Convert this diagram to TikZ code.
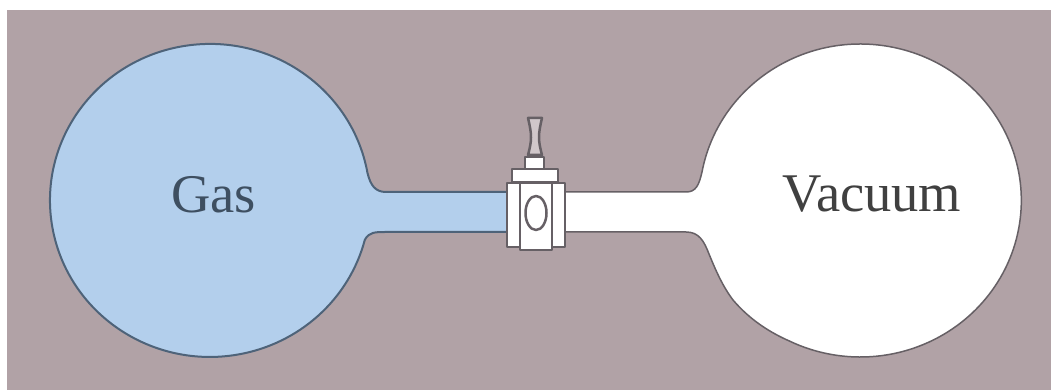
\documentclass[tikz,border=0pt]{standalone}
\usepackage{fontspec}
\setmainfont{Liberation Serif}
\usepackage{xcolor}
\definecolor{wallbg}{HTML}{B1A2A6}
\definecolor{gasblue}{HTML}{B3CFEC}
\definecolor{gasline}{HTML}{4E6379}
\definecolor{vacline}{HTML}{666065}
\begin{document}
\begin{tikzpicture}[line join=round,
  gasbulb/.style={draw=gasline,fill=gasblue,line width=0.04cm},
  vacbulb/.style={draw=vacline,fill=white,line width=0.03cm},
  valvepart/.style={draw=vacline,fill=white,line width=0.05cm},
  bulblabel/.style={anchor=base,inner sep=0pt,font=\fontsize{31}{31}\selectfont}]
\useasboundingbox (0,0) rectangle (21.02,7.8);
\fill[wallbg] (0.14,0) rectangle (21.02,7.6);
\draw[gasbulb] (10.3,3.96) -- (7.72,3.96) .. controls (7.50,3.96) and (7.41,4.10) .. (7.35,4.34)
  arc[start angle=10.1,end angle=345.4,x radius=3.2,y radius=3.13]
  .. controls (7.38,3.16) and (7.50,3.16) .. (7.72,3.16) -- (10.3,3.16) -- cycle;
\draw[vacbulb] (11,3.96) -- (13.72,3.96) .. controls (13.92,3.96) and (13.98,4.10) .. (14.04,4.36)
  arc[start angle=169.5,end angle=-116,x radius=3.22,y radius=3.13]
  .. controls (15.4,1.15) and (15.0,1.40) .. (14.66,1.80)
  .. controls (14.45,2.08) and (14.32,2.38) .. (14.18,2.72)
  .. controls (14.08,2.98) and (13.98,3.16) .. (13.72,3.16) -- (11,3.16) -- cycle;
\node[bulblabel,text=gasline!80!black] (gas) at (4.27,3.54) {Gas};
\node[bulblabel,text=black!75] (vacuum) at (17.44,3.56) {Vacuum};
% valve
\draw[valvepart,fill=wallbg!60!white] (10.56,5.44) -- (10.84,5.44) .. controls (10.76,5.10) and (10.76,5.00) .. (10.84,4.70)
  -- (10.56,4.70) .. controls (10.64,5.00) and (10.64,5.10) .. (10.56,5.44) -- cycle;
\draw[valvepart] (10.50,4.42) rectangle (10.88,4.66);
\draw[valvepart] (10.24,4.16) rectangle (11.16,4.42);
\draw[valvepart] (10.14,2.86) rectangle (11.30,4.14);
\draw[valvepart] (10.40,2.80) rectangle (11.04,4.14);
\draw[valvepart] (10.72,3.54) ellipse[x radius=0.21,y radius=0.34];
\end{tikzpicture}
\end{document}
